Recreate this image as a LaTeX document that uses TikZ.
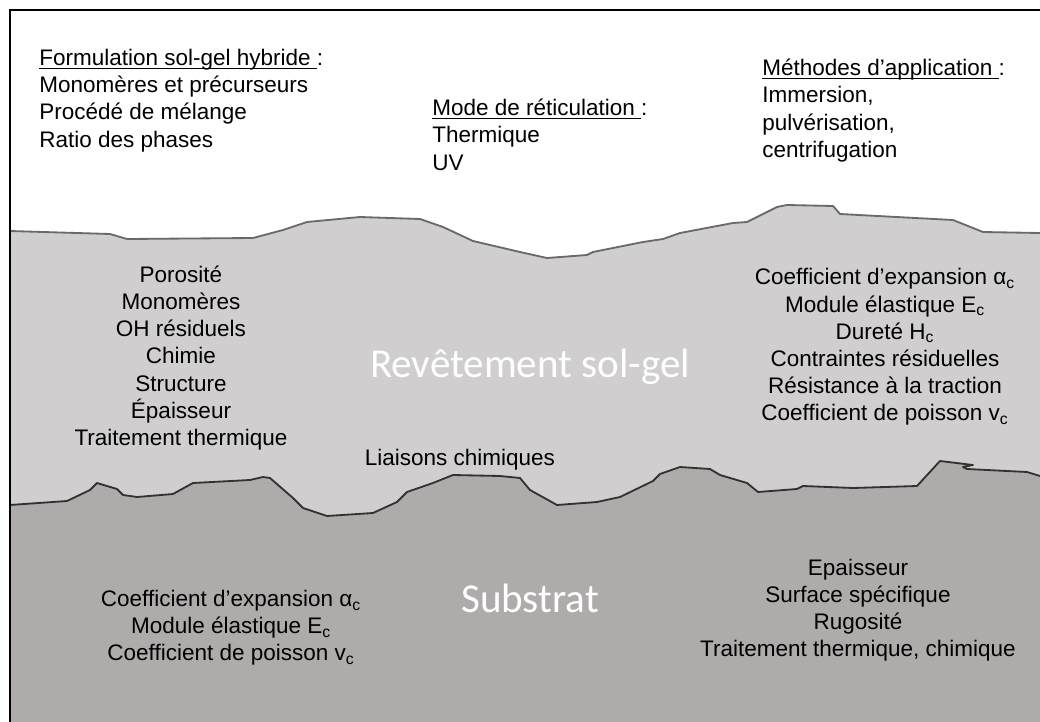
\documentclass[tikz,border=0pt]{standalone}
\usepackage{fontspec}
\setmainfont{Liberation Sans}
\newfontfamily\calib{Carlito}
\definecolor{coatgray}{RGB}{208,206,207}
\definecolor{subsgray}{RGB}{175,171,170}
\definecolor{edgtop}{RGB}{105,105,105}
\definecolor{edgbot}{RGB}{50,50,50}
\newcommand\undl[1]{\setbox0\hbox{#1}\rlap{\rule[-2.3pt]{\wd0}{0.9pt}}\box0}
\def\topedge{(10,231) -- (110,234) -- (127,239) -- (253,238) -- (283,230) -- (307,222) -- (360,217) -- (420,219) -- (443,227) -- (473,241) -- (520,252) -- (547,258) -- (587,255) -- (593,252) -- (643,242) -- (663,239) -- (680,233) -- (733,223) -- (747,222) -- (777,207) -- (787,205) -- (833,206) -- (840,214) -- (953,220) -- (983,232) -- (1040,233)}
\def\botedge{(10,505) -- (67,501) -- (90,490) -- (97,483) -- (117,489) -- (123,495) -- (137,497) -- (173,494) -- (193,483) -- (250,480) -- (263,477) -- (270,478) -- (293,498) -- (303,508) -- (327,516) -- (373,513) -- (397,502) -- (407,492) -- (433,483) -- (453,475) -- (500,476) -- (520,478) -- (530,490) -- (557,505) -- (597,502) -- (620,497) -- (653,481) -- (660,474) -- (680,467) -- (710,469) -- (720,475) -- (747,483) -- (758,492) -- (797,489) -- (803,486) -- (853,488) -- (917,486) -- (940,461) -- (973,465) -- (963,467) -- (967,469) -- (1027,472) -- (1040,476)}
\tikzset{
  txt/.style = {inner sep=0pt, align=left, font=\fontsize{16}{19.3}\selectfont},
  ctr/.style = {txt, align=center},
  big/.style = {inner sep=0pt, text=white, font=\calib\fontsize{29.2}{35}\selectfont},
  lyr/.style = {line width=1.3pt, line join=round},
  frm/.style = {line width=1.4pt},
}

\begin{document}
\begin{tikzpicture}[x=0.025cm, y=-0.025cm]
  \useasboundingbox (0,0) rectangle (1040,722);
  % layers
  \fill[coatgray] \topedge -- (1040,722) -- (10,722) -- cycle;
  \fill[subsgray] \botedge -- (1040,722) -- (10,722) -- cycle;
  \draw[lyr, edgtop] \topedge;
  \draw[lyr, edgbot] \botedge;
  \draw[frm] (10,722) -- (10,10) -- (1040,10);
  % process parameters
  \node[txt, anchor=north west] (form) at (39,49) {\undl{Formulation sol-gel hybride\ }:\\Monomères et précurseurs\\Procédé de mélange\\Ratio des phases};
  \node[txt, anchor=north west] (reti) at (432,99) {\undl{Mode de réticulation\ }:\\Thermique\\UV};
  \node[txt, anchor=north west] (appl) at (762,59) {\undl{Méthodes d’application\ }:\\Immersion,\\pulvérisation,\\centrifugation};
  % coating
  \node[big] (coat) at (530,367) {Revêtement sol-gel};
  \node[ctr] (coatl) at (181,358) {Porosité\\Monomères\\OH résiduels\\Chimie\\Structure\\Épaisseur\\Traitement thermique};
  \node[ctr] (coatr) at (885,347) {Coefficient d’expansion α\textsubscript{c}\\Module élastique E\textsubscript{c}\\Dureté H\textsubscript{c}\\Contraintes résiduelles\\Résistance à la traction\\Coefficient de poisson v\textsubscript{c}};
  \node[txt] (liai) at (460,460) {Liaisons chimiques};
  % substrate
  \node[big] (subs) at (530,598) {Substrat};
  \node[ctr] (subl) at (231,628) {Coefficient d’expansion α\textsubscript{c}\\Module élastique E\textsubscript{c}\\Coefficient de poisson v\textsubscript{c}};
  \node[ctr] (subr) at (858,610) {Epaisseur\\Surface spécifique\\Rugosité\\Traitement thermique, chimique};
\end{tikzpicture}
\end{document}
